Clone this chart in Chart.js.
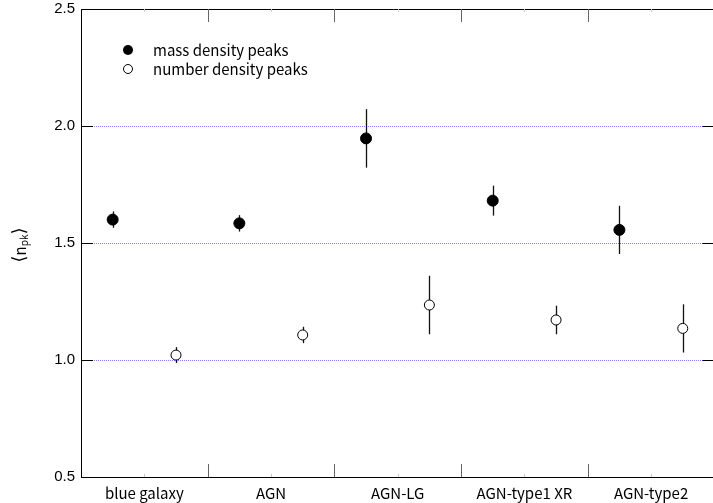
<!DOCTYPE html>
<html>
<head>
<meta charset="utf-8">
<script src="https://cdn.jsdelivr.net/npm/chart.js@4/dist/chart.umd.min.js"></script>
<style>
  html, body { margin: 0; padding: 0; background: #fff; }
  #peaks { display: block; }
</style>
</head>
<body>
<canvas id="peaks" width="713" height="503"></canvas>
<script>
// Sample names along the x axis
const categories = ['blue galaxy', 'AGN', 'AGN-LG', 'AGN-type1 XR', 'AGN-type2'];

// <n_pk> for mass density peaks (filled) and its error
const massPeaks = [1.60, 1.584, 1.947, 1.681, 1.556];
const massErr = [0.035, 0.035, 0.125, 0.064, 0.103];

// <n_pk> for number density peaks (open) and its error
const numberPeaks = [1.021, 1.107, 1.235, 1.171, 1.135];
const numberErr = [0.034, 0.035, 0.125, 0.061, 0.103];

const yTicks = [0.5, 1.0, 1.5, 2.0, 2.5];

const LABEL_FONT = '"Noto Sans CJK JP", "Noto Sans", sans-serif';
const NUM_FONT = '"Liberation Sans", Arial, sans-serif';

// filled points sit in the left quarter of a category, open ones in the right quarter
const massData = massPeaks.map((v, i) => ({ x: i + 0.25, y: v, err: massErr[i] }));
const numberData = numberPeaks.map((v, i) => ({ x: i + 0.75, y: v, err: numberErr[i] }));

// error bars, inside ticks, frame top, legend and the y title
const extrasPlugin = {
    id: 'extras',
    beforeDatasetsDraw(chart) {
        const ctx = chart.ctx;
        const xs = chart.scales.x, ys = chart.scales.y;
        ctx.save();
        ctx.strokeStyle = '#111';
        ctx.lineWidth = 1.3;
        chart.data.datasets.forEach(ds => {
            ds.data.forEach(p => {
                const px = Math.round(xs.getPixelForValue(p.x)) + 0.5;
                ctx.beginPath();
                ctx.moveTo(px, ys.getPixelForValue(p.y + p.err));
                ctx.lineTo(px, ys.getPixelForValue(p.y - p.err));
                ctx.stroke();
            });
        });
        ctx.restore();
    },
    afterDraw(chart) {
        const ctx = chart.ctx;
        const area = chart.chartArea;
        const xs = chart.scales.x, ys = chart.scales.y;
        ctx.save();

        // top frame line
        ctx.strokeStyle = '#000';
        ctx.lineWidth = 1;
        ctx.beginPath();
        ctx.moveTo(area.left, area.top + 0.5);
        ctx.lineTo(area.right, area.top + 0.5);
        ctx.stroke();

        // y ticks inside, left and on the (cut off) right side
        const rightEdge = xs.getPixelForValue(categories.length);
        yTicks.forEach(v => {
            const py = Math.round(ys.getPixelForValue(v)) + 0.5;
            ctx.beginPath();
            ctx.moveTo(area.left, py);
            ctx.lineTo(area.left + 12, py);
            ctx.moveTo(rightEdge - 12, py);
            ctx.lineTo(rightEdge, py);
            ctx.stroke();
        });

        // category boundary ticks, top and bottom
        ctx.strokeStyle = '#666';
        for (let i = 1; i < categories.length; i++) {
            const px = Math.round(xs.getPixelForValue(i)) + 0.5;
            ctx.beginPath();
            ctx.moveTo(px, area.top);
            ctx.lineTo(px, area.top + 13);
            ctx.moveTo(px, area.bottom);
            ctx.lineTo(px, area.bottom - 13);
            ctx.stroke();
        }
        // faint minor ticks at category centres
        ctx.strokeStyle = '#c8c8c8';
        categories.forEach((c, i) => {
            const px = Math.round(xs.getPixelForValue(i + 0.5)) + 0.5;
            ctx.beginPath();
            ctx.moveTo(px, area.top);
            ctx.lineTo(px, area.top + 3);
            ctx.moveTo(px, area.bottom);
            ctx.lineTo(px, area.bottom - 3);
            ctx.stroke();
        });

        // legend
        ctx.fillStyle = '#000';
        ctx.strokeStyle = '#000';
        ctx.beginPath();
        ctx.arc(128, 50, 5, 0, Math.PI * 2);
        ctx.fill();
        ctx.lineWidth = 1;
        ctx.beginPath();
        ctx.arc(128, 69, 4.5, 0, Math.PI * 2);
        ctx.stroke();
        ctx.font = '15px ' + LABEL_FONT;
        ctx.textAlign = 'left';
        ctx.textBaseline = 'middle';
        ctx.fillText('mass density peaks', 153, 50);
        ctx.fillText('number density peaks', 153, 69);

        // y title <n_pk>, rotated
        ctx.translate(20, 245);
        ctx.rotate(-Math.PI / 2);
        const big = '15px ' + LABEL_FONT;
        const brk = '18px "DejaVu Sans", sans-serif';
        const small = '10px ' + LABEL_FONT;
        const parts = [['⟨', brk, 0], ['n', big, 0], ['pk', small, 4], ['⟩', brk, 0]];
        let total = 0;
        parts.forEach(p => { ctx.font = p[1]; total += ctx.measureText(p[0]).width; });
        let x = -total / 2;
        ctx.textBaseline = 'middle';
        parts.forEach(p => {
            ctx.font = p[1];
            ctx.fillText(p[0], x, p[2]);
            x += ctx.measureText(p[0]).width;
        });
        ctx.restore();
    }
};

new Chart(document.getElementById('peaks'), {
    type: 'scatter',
    data: {
        datasets: [
            {
                label: 'mass density peaks',
                data: massData,
                pointRadius: 5.5,
                pointBackgroundColor: '#000',
                pointBorderColor: '#000',
                pointBorderWidth: 1
            },
            {
                label: 'number density peaks',
                data: numberData,
                pointRadius: 5,
                pointBackgroundColor: '#fff',
                pointBorderColor: '#000',
                pointBorderWidth: 1
            }
        ]
    },
    options: {
        responsive: false,
        animation: false,
        devicePixelRatio: 1,
        layout: { padding: { top: 9, left: 0, right: 0, bottom: 0 } },
        plugins: {
            legend: { display: false },
            tooltip: { enabled: false }
        },
        scales: {
            x: {
                type: 'linear',
                min: 0,
                max: 4.9375,
                afterBuildTicks: scale => {
                    scale.ticks = categories.map((c, i) => ({ value: i + 0.5 }));
                },
                afterFit: scale => { scale.height = 26; scale.paddingLeft = 0; scale.paddingRight = 0; },
                ticks: {
                    autoSkip: false,
                    maxRotation: 0,
                    padding: 7,
                    color: '#000',
                    font: { family: LABEL_FONT, size: 15 },
                    callback: v => categories[Math.round(v - 0.5)]
                },
                grid: { display: false, drawTicks: false },
                border: { display: true, color: '#000', width: 1 }
            },
            y: {
                min: 0.5,
                max: 2.5,
                afterBuildTicks: scale => {
                    scale.ticks = yTicks.map(v => ({ value: v }));
                },
                afterFit: scale => { scale.width = 81; scale.paddingTop = 0; scale.paddingBottom = 0; },
                ticks: {
                    padding: 6,
                    color: '#000',
                    font: { family: NUM_FONT, size: 15 },
                    callback: v => v.toFixed(1)
                },
                grid: {
                    drawTicks: false,
                    lineWidth: 1,
                    color: c => (c.tick && (c.tick.value === 0.5 || c.tick.value === 2.5)) ? 'rgba(0,0,0,0)' : '#7f7fff'
                },
                border: { display: true, color: '#000', width: 1, dash: [1, 1] }
            }
        }
    },
    plugins: [extrasPlugin]
});
</script>
</body>
</html>
